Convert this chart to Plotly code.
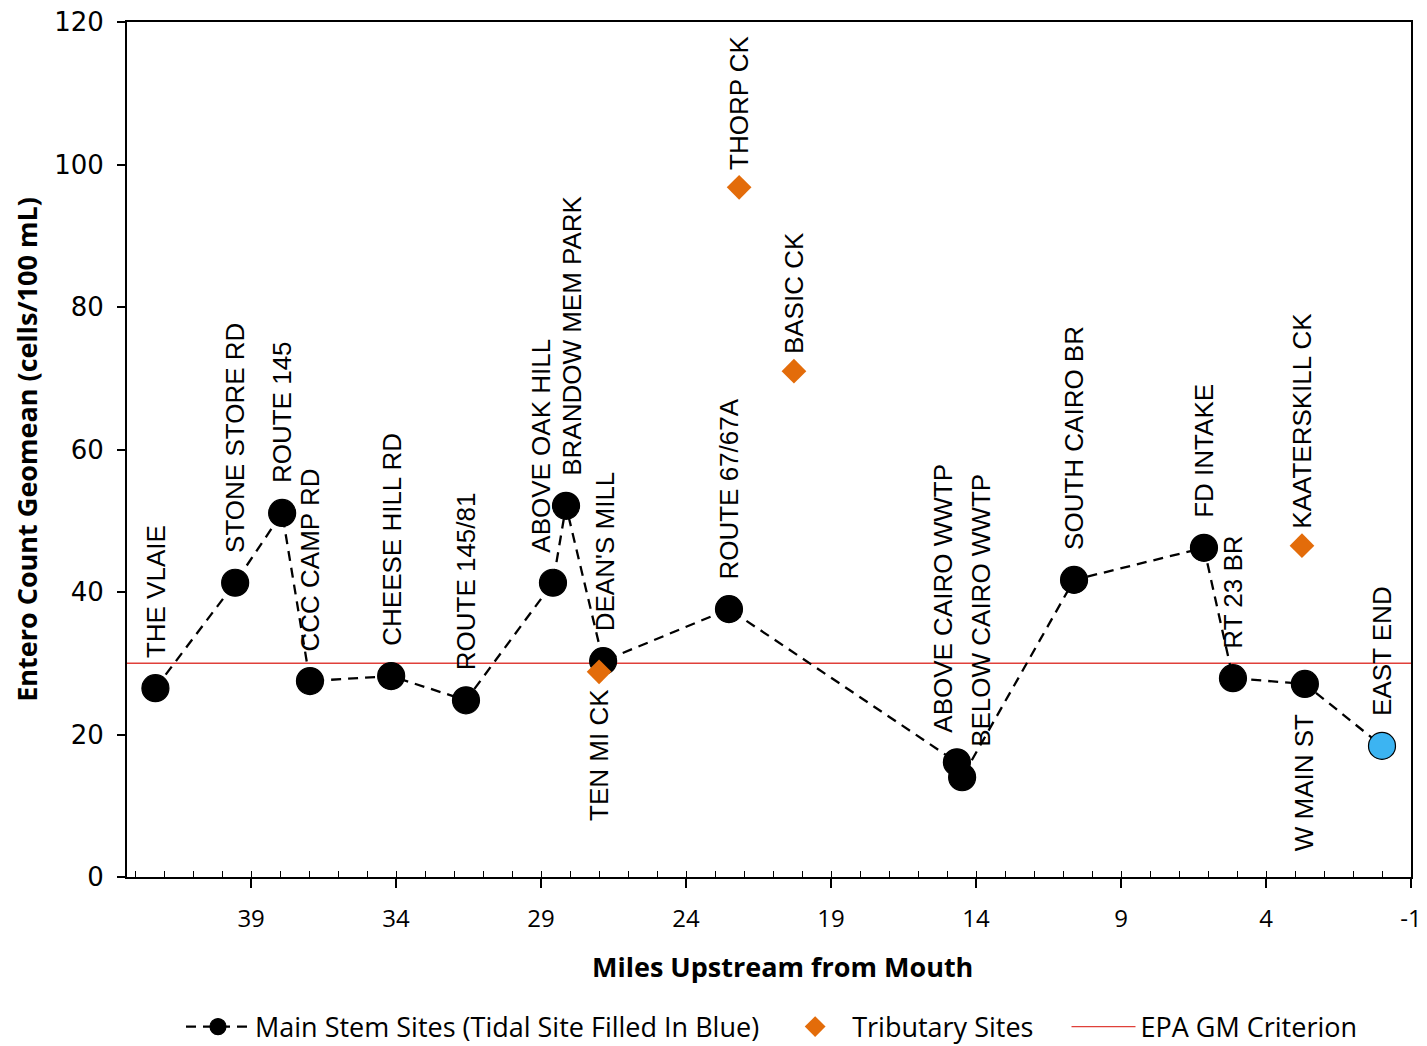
import plotly.graph_objects as go

# ---- data ----
main_names = ["THE VLAIE", "STONE STORE RD", "ROUTE 145", "CCC CAMP RD", "CHEESE HILL RD",
              "ROUTE 145/81", "ABOVE OAK HILL", "BRANDOW MEM PARK", "DEAN'S MILL",
              "ROUTE 67/67A", "ABOVE CAIRO WWTP", "BELOW CAIRO WWTP", "SOUTH CAIRO BR",
              "FD INTAKE", "RT 23 BR", "W MAIN ST", "EAST END"]
main_miles = [42.3, 39.55, 37.93, 36.97, 34.17, 31.59, 28.59, 28.14, 26.86,
              22.52, 14.66, 14.48, 10.62, 6.14, 5.14, 2.66, 0.0]
main_values = [26.5, 41.3, 51.1, 27.5, 28.2, 24.8, 41.3, 52.1, 30.3,
               37.6, 16.1, 14.0, 41.7, 46.2, 27.9, 27.1, 18.4]
main_tidal = [False] * 16 + [True]

trib_names = ["TEN MI CK", "THORP CK", "BASIC CK", "KAATERSKILL CK"]
trib_miles = [27.0, 22.17, 20.28, 2.76]
trib_values = [28.8, 96.8, 71.0, 46.5]

epa_criterion = 30
x_range = [43.28, -1]
y_range = [0, 120]
x_tickvals = [39, 34, 29, 24, 19, 14, 9, 4, -1]
x_ticktext = ["39", "34", "29", "24", "19", "14", "9", "4", "-1"]

# ---- label styling (pixel offsets) ----
label_xshift = {"ABOVE OAK HILL": -12, "BRANDOW MEM PARK": 6, "ABOVE CAIRO WWTP": -14,
                "BELOW CAIRO WWTP": 19, "DEAN'S MILL": 2}
label_below = {"TEN MI CK", "W MAIN ST"}

label_font = dict(family="Liberation Sans, Arial", size=26, color="black")
calibri = "Open Sans, Liberation Sans"
NB = "\u00a0"

fig = go.Figure()

fig.add_trace(go.Scatter(
    x=x_range, y=[epa_criterion, epa_criterion], mode="lines",
    line=dict(color="#E0403A", width=1.3), name="EPA GM Criterion",
    hoverinfo="skip"))

fig.add_trace(go.Scatter(
    x=main_miles, y=main_values, mode="lines+markers",
    name="Main Stem Sites (Tidal Site Filled In Blue)" + NB * 2,
    line=dict(color="black", width=2.3, dash="10px,7px"),
    marker=dict(size=27, symbol="circle",
                color=["#3CB4F2" if t else "black" for t in main_tidal],
                line=dict(color="black", width=1.2)),
    text=main_names))

fig.add_trace(go.Scatter(
    x=trib_miles, y=trib_values, mode="markers",
    name="Tributary Sites" + NB * 4,
    marker=dict(size=19, symbol="diamond", color="#E36C0A", line=dict(width=0)),
    text=trib_names))

def add_labels(names, xs, ys, shift):
    for n, xv, yv in zip(names, xs, ys):
        below = n in label_below
        fig.add_annotation(
            x=xv, y=yv, xref="x", yref="y", text=n, showarrow=False,
            textangle=-90, font=label_font,
            xanchor="center", yanchor="top" if below else "bottom",
            yshift=-shift if below else shift, xshift=label_xshift.get(n, 0),
            borderpad=0)

add_labels(main_names, main_miles, main_values, 29)
add_labels(trib_names, trib_miles, trib_values, 16)

# x-axis title as annotation (slightly right of centre like the reference)
fig.add_annotation(text="<b>Miles Upstream from Mouth</b>", xref="paper", yref="paper",
                   x=(783 - 127) / 1284, y=-(967 - 877) / 855, xanchor="center",
                   yanchor="middle", showarrow=False,
                   font=dict(family=calibri, size=27, color="black"))

fig.update_layout(
    width=1427, height=1046,
    margin=dict(l=127, r=16, t=22, b=169, autoexpand=False),
    paper_bgcolor="white", plot_bgcolor="white",
    showlegend=True,
    legend=dict(orientation="h", x=(772 - 127) / 1284, xanchor="center",
                y=-(1027 - 877) / 855, yanchor="middle",
                font=dict(family=calibri, size=27, color="black"),
                traceorder="normal", itemwidth=64),
    xaxis=dict(range=x_range, tickvals=x_tickvals, ticktext=x_ticktext,
               ticks="outside", ticklen=9, automargin=False,
               tickwidth=1.5, tickcolor="black", showgrid=False, zeroline=False,
               showline=True, linecolor="black", linewidth=2, mirror=True,
               tickfont=dict(family=calibri, size=24, color="black"),
               ticklabelstandoff=10,
               minor=dict(dtick=1, tick0=-1, ticks="inside", ticklen=6, tickcolor="black",
                          tickwidth=1, showgrid=False)),
    yaxis=dict(range=y_range, dtick=20, ticks="outside", ticklen=8, tickwidth=1.5,
               tickcolor="black", showgrid=False, zeroline=False, automargin=False,
               showline=True, linecolor="black", linewidth=2, mirror=True,
               tickfont=dict(family="DejaVu Sans, Verdana", size=26, color="black"),
               ticklabelstandoff=8,
               title=dict(text="<b>Entero Count Geomean (cells/100 mL)</b>", standoff=9,
                          font=dict(family=calibri, size=27, color="black"))),
)

# order legend: main stem, tributary, EPA
fig.data[0].legendrank = 3
fig.data[1].legendrank = 1
fig.data[2].legendrank = 2

fig.write_html("out.html", config={"displayModeBar": False},
               post_script="document.body.style.margin='0';document.body.style.overflow='hidden';")
